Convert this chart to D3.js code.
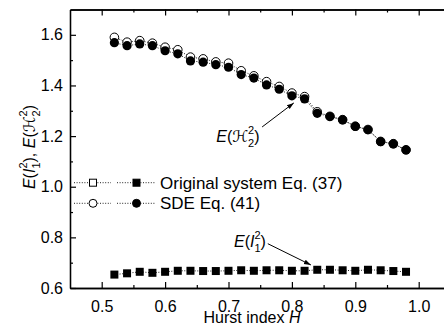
<!DOCTYPE html>
<html>
<head>
<meta charset="utf-8">
<script src="https://cdn.jsdelivr.net/npm/d3@7"></script>
<style>
  body { margin: 0; background: #fff; }
  svg { display: block; font-family: "Liberation Sans", Arial, "DejaVu Sans", sans-serif; }
</style>
</head>
<body>
<svg width="444" height="331"></svg>
<script>
// Hurst index values
const hurst = [0.52, 0.54, 0.56, 0.58, 0.60, 0.62, 0.64, 0.66, 0.68, 0.70, 0.72, 0.74,
               0.76, 0.78, 0.80, 0.82, 0.84, 0.86, 0.88, 0.90, 0.92, 0.94, 0.96, 0.98];

// E(H2^2), original system Eq. (37) -- open circles
const h2Original = [1.590, 1.571, 1.577, 1.567, 1.551, 1.541, 1.512, 1.505, 1.493, 1.488, 1.458, 1.438,
                    1.415, 1.396, 1.370, 1.356, 1.296, 1.278, 1.265, 1.239, 1.226, 1.179, 1.170, 1.146];
// E(H2^2), SDE Eq. (41) -- filled circles
const h2Sde = [1.569, 1.557, 1.564, 1.557, 1.537, 1.525, 1.497, 1.492, 1.482, 1.472, 1.443, 1.429,
               1.402, 1.385, 1.359, 1.347, 1.290, 1.277, 1.264, 1.238, 1.225, 1.178, 1.169, 1.145];
// E(I1^2) -- squares
const i1Values = [0.653, 0.658, 0.664, 0.660, 0.664, 0.668, 0.668, 0.667, 0.667, 0.668, 0.670, 0.668,
                  0.670, 0.670, 0.668, 0.668, 0.672, 0.672, 0.670, 0.668, 0.672, 0.670, 0.667, 0.664];

const xMajor = [0.5, 0.6, 0.7, 0.8, 0.9, 1.0];
const xMinor = [0.55, 0.65, 0.75, 0.85, 0.95];
const yMajor = [0.6, 0.8, 1.0, 1.2, 1.4, 1.6];
const yMinor = [0.7, 0.9, 1.1, 1.3, 1.5];

const legendLabels = ["Original system Eq. (37)", "SDE Eq. (41)"];

const svg = d3.select("svg");
const mLeft = 70, mTop = 9.5, mBottom = 288;
const x = d3.scaleLinear().domain([0.45, 1.05]).range([mLeft, mLeft + 0.6 * 634]);
const y = d3.scaleLinear().domain([0.6, 1.7]).range([mBottom, mTop]);
const mRight = x.range()[1];

const fontSize = 16;

// axes (ticks pointing inwards)
svg.append("g").attr("transform", `translate(0,${mBottom})`)
  .call(d3.axisBottom(x).tickValues(xMajor).tickFormat(d3.format(".1f")).tickSizeInner(-6).tickSizeOuter(0).tickPadding(13));
svg.append("g").attr("transform", `translate(0,${mBottom})`)
  .call(d3.axisBottom(x).tickValues(xMinor).tickFormat("").tickSizeInner(-3).tickSizeOuter(0));
svg.append("g").attr("transform", `translate(0,${mTop})`)
  .call(d3.axisTop(x).tickValues(xMajor).tickFormat("").tickSizeInner(-6).tickSizeOuter(0));
svg.append("g").attr("transform", `translate(0,${mTop})`)
  .call(d3.axisTop(x).tickValues(xMinor).tickFormat("").tickSizeInner(-3).tickSizeOuter(0));

svg.append("g").attr("transform", `translate(${mLeft},0)`)
  .call(d3.axisLeft(y).tickValues(yMajor).tickFormat(d3.format(".1f")).tickSizeInner(-6).tickSizeOuter(0).tickPadding(7));
svg.append("g").attr("transform", `translate(${mLeft},0)`)
  .call(d3.axisLeft(y).tickValues(yMinor).tickFormat("").tickSizeInner(-3).tickSizeOuter(0));
svg.append("g").attr("transform", `translate(${mRight},0)`)
  .call(d3.axisRight(y).tickValues(yMajor).tickFormat("").tickSizeInner(-6).tickSizeOuter(0));

svg.selectAll(".domain").attr("stroke", "#000").attr("stroke-width", 1.3);
svg.selectAll(".tick line").attr("stroke", "#000").attr("stroke-width", 1.2);
svg.selectAll(".tick text")
  .attr("font-size", fontSize)
  .attr("font-family", "Liberation Sans, Arial, sans-serif")
  .attr("fill", "#000");

// text with a stacked subscript + superscript, e.g. E(I_1^2)
function stackedLabel(sel, base, sub, sup) {
  sel.append("tspan").attr("font-style", "italic").text("E");
  sel.append("tspan").text("(");
  sel.append("tspan").attr("font-style", "italic").text(base);
  sel.append("tspan").attr("font-size", 11).attr("dy", 5).text(sub);
  sel.append("tspan").attr("font-size", 11).attr("dx", -6.1).attr("dy", -13).text(sup);
  sel.append("tspan").attr("dy", 8).text(")");
}

// y axis title
const yTitle = svg.append("text")
  .attr("transform", "translate(35,147) rotate(-90)")
  .attr("text-anchor", "middle")
  .attr("font-size", fontSize);
stackedLabel(yTitle, "I", "1", "2");
yTitle.append("tspan").attr("dy", 0).text(", ");
stackedLabel(yTitle, "\u210B", "2", "2");

// x axis title
const xTitle = svg.append("text")
  .attr("x", 252).attr("y", 323)
  .attr("text-anchor", "middle")
  .attr("font-size", fontSize);
xTitle.append("tspan").text("Hurst index ");
xTitle.append("tspan").attr("font-style", "italic").text("H");

// series
const dotted = { stroke: "#222", "stroke-width": 1, "stroke-dasharray": "1,1.6" };
const line = vals => d3.line().x((d, i) => x(hurst[i])).y(d => y(d))(vals);

function drawLine(vals) {
  svg.append("path").attr("d", line(vals)).attr("fill", "none")
    .attr("stroke", dotted.stroke).attr("stroke-width", dotted["stroke-width"])
    .attr("stroke-dasharray", dotted["stroke-dasharray"]);
}

drawLine(h2Original);
drawLine(h2Sde);
drawLine(i1Values);

svg.append("g").selectAll("circle").data(h2Original).join("circle")
  .attr("cx", (d, i) => x(hurst[i])).attr("cy", d => y(d)).attr("r", 4.3)
  .attr("fill", "#fff").attr("stroke", "#000").attr("stroke-width", 1);
svg.append("g").selectAll("circle").data(h2Sde).join("circle")
  .attr("cx", (d, i) => x(hurst[i])).attr("cy", d => y(d)).attr("r", 4.6)
  .attr("fill", "#000");
const sq = 8;
svg.append("g").selectAll("rect").data(i1Values).join("rect")
  .attr("x", (d, i) => x(hurst[i]) - sq / 2).attr("y", d => y(d) - sq / 2)
  .attr("width", sq).attr("height", sq).attr("fill", "#000");

// legend
const legendY = [182.7, 203.3];
const legend = svg.append("g");
legendLabels.forEach((lab, k) => {
  const ly = legendY[k];
  [[74, 111, 93], [117, 155, 136.5]].forEach(([x1, x2, cx], j) => {
    legend.append("line").attr("x1", x1).attr("x2", x2).attr("y1", ly).attr("y2", ly)
      .attr("stroke", dotted.stroke).attr("stroke-width", 1).attr("stroke-dasharray", dotted["stroke-dasharray"]);
    const filled = j === 1;
    if (k === 0) {
      legend.append("rect").attr("x", cx - 3.5).attr("y", ly - 3.5).attr("width", 7).attr("height", 7)
        .attr("fill", filled ? "#000" : "#fff").attr("stroke", "#000").attr("stroke-width", 1);
    } else {
      legend.append("circle").attr("cx", cx).attr("cy", ly).attr("r", 4)
        .attr("fill", filled ? "#000" : "#fff").attr("stroke", "#000").attr("stroke-width", 1);
    }
  });
  legend.append("text").attr("x", 160).attr("y", ly + 6).attr("font-size", 17).text(lab);
});

// annotations
svg.append("defs").append("marker")
  .attr("id", "arrow").attr("viewBox", "0 0 10 10").attr("refX", 10).attr("refY", 5)
  .attr("markerWidth", 7).attr("markerHeight", 7).attr("orient", "auto")
  .append("path").attr("d", "M0,1.5 L10,5 L0,8.5 Z").attr("fill", "#000");

const annotations = [
  { label: ["\u210B", "2", "2"], tx: 0.749, ty: 1.177, from: [0.753, 1.236], to: [0.803, 1.331] },
  { label: ["I", "1", "2"], tx: 0.759, ty: 0.762, from: [0.762, 0.775], to: [0.830, 0.691] }
];
annotations.forEach(a => {
  const t = svg.append("text").attr("x", x(a.tx)).attr("y", y(a.ty))
    .attr("text-anchor", "end").attr("font-size", fontSize);
  stackedLabel(t, ...a.label);
  svg.append("line")
    .attr("x1", x(a.from[0])).attr("y1", y(a.from[1]))
    .attr("x2", x(a.to[0])).attr("y2", y(a.to[1]))
    .attr("stroke", "#000").attr("stroke-width", 1)
    .attr("marker-end", "url(#arrow)");
});
</script>
</body>
</html>
